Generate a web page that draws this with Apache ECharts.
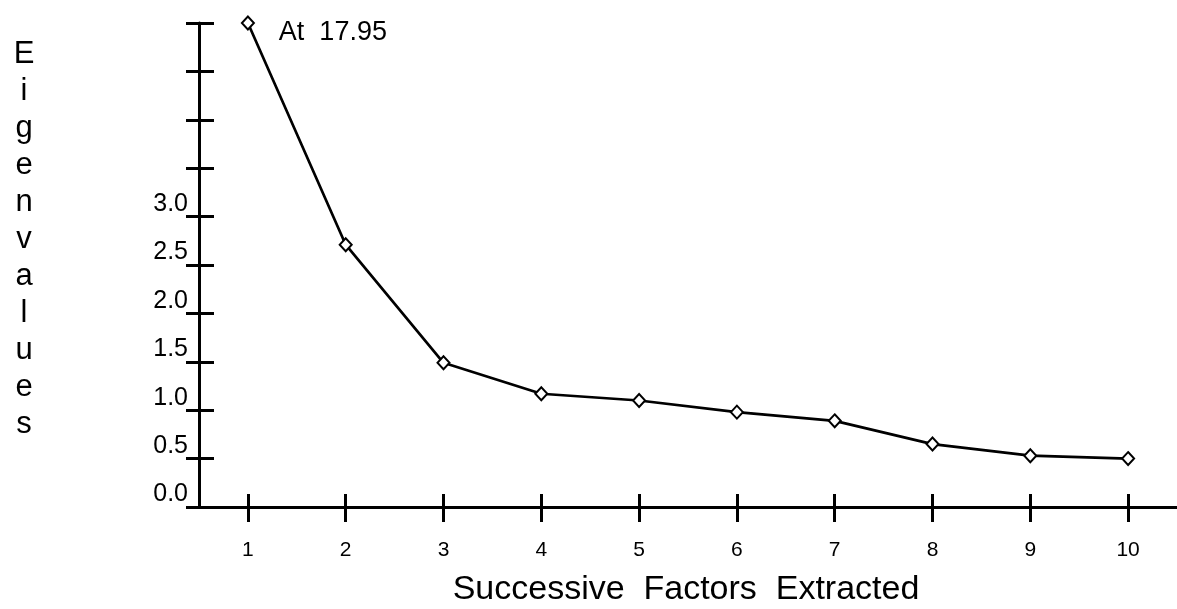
<!DOCTYPE html>
<html>
<head>
<meta charset="utf-8">
<script src="https://cdn.jsdelivr.net/npm/echarts@6/dist/echarts.min.js"></script>
<style>
html,body{margin:0;padding:0;background:#fff;}
#chart{width:1177px;height:609px;}
</style>
</head>
<body>
<div id="chart"></div>
<script>
// Data
var factors = ['1','2','3','4','5','6','7','8','9','10'];
var eigenvalues = [17.95, 2.71, 1.49, 1.17, 1.10, 0.98, 0.89, 0.65, 0.53, 0.50];
var yMin = 0, yMax = 5, yInterval = 0.5, yLabelMax = 3.0;
var xTitle = 'Successive  Factors  Extracted';
var yTitle = 'Eigenvalues';

var FONT = "'Liberation Sans', Arial, Helvetica, sans-serif";

var seriesData = eigenvalues.map(function (v) {
  var item = { value: Math.min(v, yMax) };
  if (v > yMax) {
    item.label = {
      show: true, position: 'right', distance: 24, offset: [0, 10],
      formatter: 'At  ' + v.toFixed(2),
      color: '#000', fontSize: 27, fontFamily: FONT
    };
  }
  return item;
});

var chart = echarts.init(document.getElementById('chart'));
chart.setOption({
  backgroundColor: '#fff',
  animation: false,
  grid: { left: 199, right: 0, top: 23, bottom: 102, containLabel: false },
  graphic: [{
    type: 'text', x: 24, y: 239, silent: true,
    style: {
      text: yTitle.split('').join('\n'), fill: '#000',
      font: '31px ' + FONT, lineHeight: 37, align: 'center', verticalAlign: 'middle'
    }
  }, {
    type: 'text', x: 686, y: 590, silent: true,
    style: {
      text: xTitle, fill: '#000',
      font: '34px ' + FONT, align: 'center', verticalAlign: 'middle'
    }
  }],
  xAxis: [{
    type: 'category', data: factors, boundaryGap: true, position: 'bottom',
    axisLine: { show: true, lineStyle: { color: '#000', width: 3 } },
    axisTick: { show: true, alignWithLabel: true, length: 15, lineStyle: { color: '#000', width: 3 } },
    axisLabel: { color: '#000', fontSize: 21, fontFamily: FONT, margin: 33 },
    splitLine: { show: false }
  }, {
    type: 'category', data: factors, boundaryGap: true, position: 'bottom', offset: 0,
    axisLine: { show: false },
    axisTick: { show: true, inside: true, alignWithLabel: true, length: 13, lineStyle: { color: '#000', width: 3 } },
    axisLabel: { show: false }, splitLine: { show: false }
  }],
  yAxis: [{
    type: 'value', min: yMin, max: yMax, interval: yInterval, position: 'left',
    axisLine: { show: true, lineStyle: { color: '#000', width: 3 } },
    axisTick: { show: true, length: 13, lineStyle: { color: '#000', width: 3 } },
    axisLabel: {
      color: '#000', fontSize: 25, fontFamily: FONT, margin: 11, verticalAlign: 'bottom',
      formatter: function (v) { return v <= yLabelMax + 1e-9 ? v.toFixed(1) : ''; }
    },
    splitLine: { show: false }
  }, {
    type: 'value', min: yMin, max: yMax, interval: yInterval, position: 'left', offset: 0,
    axisLine: { show: false },
    axisTick: { show: true, inside: true, length: 15, lineStyle: { color: '#000', width: 3 } },
    axisLabel: { show: false }, splitLine: { show: false }
  }],
  series: [{
    type: 'line', xAxisIndex: 0, yAxisIndex: 0,
    data: seriesData,
    symbol: 'diamond', symbolSize: [12, 13],
    itemStyle: { color: '#fff', borderColor: '#000', borderWidth: 2 },
    lineStyle: { color: '#000', width: 2.7 },
    label: { show: false },
    z: 5
  }]
});
</script>
</body>
</html>
